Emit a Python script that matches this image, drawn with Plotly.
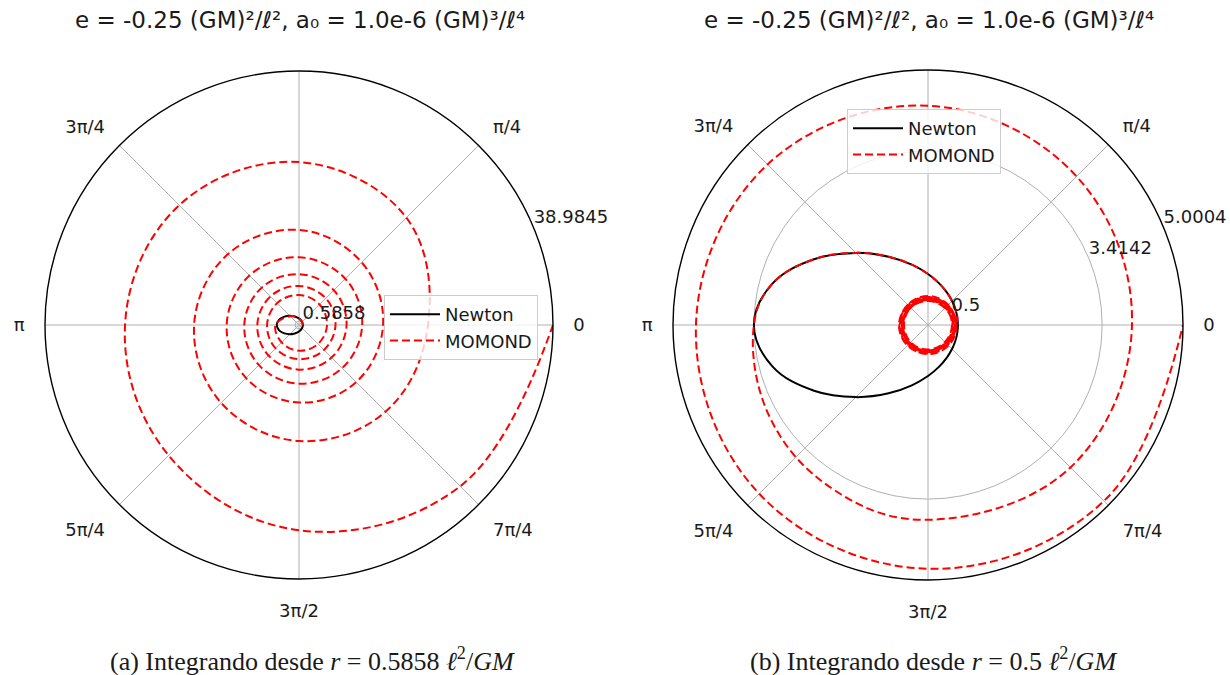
import plotly.graph_objects as go

# ---------------- data ----------------
TITLE = "e = -0.25 (GM)²/ℓ², a₀ = 1.0e-6 (GM)³/ℓ⁴"
angle_ticks = [0, 45, 90, 135, 180, 225, 270, 315]
angle_labels = ["0", "π/4", "", "3π/4", "π", "5π/4", "3π/2", "7π/4"]

# Newton orbit sampled every 15 degrees
newton_theta = [15 * k for k in range(25)]
newton_r = [0.5858, 0.5942, 0.6202, 0.6667, 0.7388, 0.8453, 1.0, 1.224,
            1.547, 2.0, 2.580, 3.1546, 3.4142, 3.1546, 2.580, 2.0,
            1.547, 1.224, 1.0, 0.8453, 0.7388, 0.6667, 0.6202, 0.5942,
            0.5858]

# (a) MOMOND orbit started at r = 0.5858, sampled every 45 degrees
momond_a_theta = [45 * k for k in range(57)]
momond_a_r = [0.5858, 0.68, 1.05, 1.9, 3.6, 3.78, 3.95, 4.12,
              4.3, 4.45, 4.6, 4.75, 4.9, 5.07, 5.25, 5.42,
              5.6, 5.8, 6.0, 6.2, 6.4, 6.62, 6.85, 7.07,
              7.3, 7.55, 7.8, 8.1, 8.4, 8.7, 9.0, 9.35,
              9.7, 10.05, 10.4, 10.75, 11.1, 11.5, 11.9, 12.4,
              12.9, 13.6, 14.6, 15.4, 16.1, 16.9, 17.8, 18.8,
              19.8, 23.3, 25.0, 26.0, 26.7, 28.3, 31.5, 35.0,
              38.9845]
ticks_a = [0.5858, 38.9845]
rmax_a = 38.9845

# (b) MOMOND orbit started at r = 0.5: tight loops near r = 0.5 (every 45 deg) ...
ring_b_r = [0.50, 0.50, 0.51, 0.51, 0.52, 0.52, 0.53, 0.53,
            0.54, 0.54, 0.55, 0.55, 0.56, 0.56, 0.57, 0.57,
            0.56, 0.55, 0.54, 0.53, 0.52, 0.51, 0.50, 0.49,
            0.48, 0.47, 0.47, 0.48, 0.49, 0.50, 0.51, 0.52,
            0.53, 0.54, 0.55, 0.56, 0.57, 0.57, 0.56, 0.55,
            0.54, 0.53, 0.52, 0.51, 0.50, 0.49, 0.48, 0.47,
            0.47, 0.48, 0.49, 0.50, 0.51, 0.52, 0.53, 0.54,
            0.55, 0.56, 0.57, 0.56, 0.55, 0.54, 0.53, 0.52,
            0.51, 0.50, 0.49, 0.48, 0.47, 0.48, 0.49, 0.50]
# ... then the escape branch (angles in degrees, continuing after the loops)
tail_b_theta = [0, 15, 30, 45, 60, 75, 90, 105, 120, 135, 150, 165, 180,
                210, 240, 270, 315, 360,
                405, 450, 495, 540, 585, 630, 675, 720]
tail_b_r = [0.55, 0.5942, 0.6202, 0.6667, 0.7388, 0.8453, 1.0, 1.224,
            1.547, 2.0, 2.580, 3.1546, 3.4142,
            3.59, 3.72, 3.82, 3.95, 4.0,
            4.12, 4.3, 4.45, 4.55, 4.68, 4.78, 4.88, 5.0004]
ticks_b = [0.5, 3.4142, 5.0004]
rmax_b = 5.0004

captions = [
    "(a) Integrando desde <i>r</i> = 0.5858 <i>ℓ</i><sup>2</sup>/<i>GM</i>",
    "(b) Integrando desde <i>r</i> = 0.5 <i>ℓ</i><sup>2</sup>/<i>GM</i>",
]

# full angle lists for the (b) orbit
ring_b_theta = [45 * k for k in range(len(ring_b_r))]
turns_done = 360 * (len(ring_b_r) // 8)
momond_b_theta = ring_b_theta + [turns_done + t for t in tail_b_theta]
momond_b_r = ring_b_r + tail_b_r

# ---------------- figure ----------------
W, H = 1230, 675
SANS = "DejaVu Sans"
RED = "#ff0000"
GRID = "#b0b0b0"
INK = "#1a1a1a"

fig = go.Figure()

panels = [
    dict(polar="polar", legend="legend", mth=momond_a_theta, mr=momond_a_r,
         ticks=ticks_a),
    dict(polar="polar2", legend="legend2", mth=momond_b_theta, mr=momond_b_r,
         ticks=ticks_b),
]

for p in panels:
    fig.add_trace(go.Scatterpolar(
        r=newton_r, theta=newton_theta, mode="lines", name="Newton",
        line=dict(color="black", width=2, shape="spline", smoothing=1.1),
        subplot=p["polar"], legend=p["legend"]))
    fig.add_trace(go.Scatterpolar(
        r=p["mr"], theta=p["mth"], mode="lines", name="MOMOND",
        line=dict(color=RED, width=2, dash="8px,4px", shape="spline", smoothing=1.1),
        subplot=p["polar"], legend=p["legend"]))
    # radial tick labels at 22.5 degrees
    fig.add_trace(go.Scatterpolar(
        r=p["ticks"], theta=[22.5] * len(p["ticks"]), mode="text",
        text=[f"{v:g}" for v in p["ticks"]], textposition="top right",
        textfont=dict(family=SANS, size=18, color=INK),
        cliponaxis=False, showlegend=False, hoverinfo="skip",
        subplot=p["polar"]))


def polar_layout(xdom, ydom, ticks, rmax):
    return dict(
        domain=dict(x=xdom, y=ydom),
        bgcolor="white",
        angularaxis=dict(
            tickmode="array", tickvals=angle_ticks, ticktext=angle_labels,
            direction="counterclockwise", rotation=0,
            showline=True, linecolor="black", linewidth=1.4,
            showgrid=True, gridcolor=GRID, gridwidth=1,
            ticks="outside", ticklen=16, tickcolor="rgba(0,0,0,0)",
            tickfont=dict(family=SANS, size=18, color=INK)),
        radialaxis=dict(
            range=[0, rmax], tickmode="array", tickvals=ticks,
            showticklabels=False, ticks="", showline=False,
            showgrid=True, gridcolor=GRID, gridwidth=1, angle=22.5),
    )


legend_style = dict(
    bgcolor="rgba(255,255,255,0.8)", bordercolor="#cccccc", borderwidth=1,
    font=dict(family=SANS, size=18, color=INK), xanchor="left", yanchor="top",
    itemwidth=50,
)

title_font = dict(family=SANS, size=23, color=INK)
caption_font = dict(family="Liberation Serif", size=26, color=INK)
annotations = [
    dict(text=TITLE, x=300 / W, y=1 - 20 / H, xref="paper", yref="paper",
         showarrow=False, font=title_font, xanchor="center", yanchor="middle"),
    dict(text=TITLE, x=929 / W, y=1 - 20 / H, xref="paper", yref="paper",
         showarrow=False, font=title_font, xanchor="center", yanchor="middle"),
    dict(text=captions[0], x=312 / W, y=1 - 659 / H, xref="paper", yref="paper",
         showarrow=False, font=caption_font, xanchor="center", yanchor="middle"),
    dict(text=captions[1], x=933 / W, y=1 - 659 / H, xref="paper", yref="paper",
         showarrow=False, font=caption_font, xanchor="center", yanchor="middle"),
]

fig.update_layout(
    width=W, height=H, margin=dict(l=0, r=0, t=0, b=0),
    paper_bgcolor="white", plot_bgcolor="white",
    polar=polar_layout([45 / W, 553 / W], [96 / H, 604 / H], ticks_a, rmax_a),
    polar2=polar_layout([673 / W, 1183 / W], [95 / H, 605 / H], ticks_b, rmax_b),
    legend=dict(x=384 / W, y=1 - 295 / H, **legend_style),
    legend2=dict(x=847 / W, y=1 - 109 / H, **legend_style),
    annotations=annotations,
    showlegend=True,
)

fig.write_html("out.html")
